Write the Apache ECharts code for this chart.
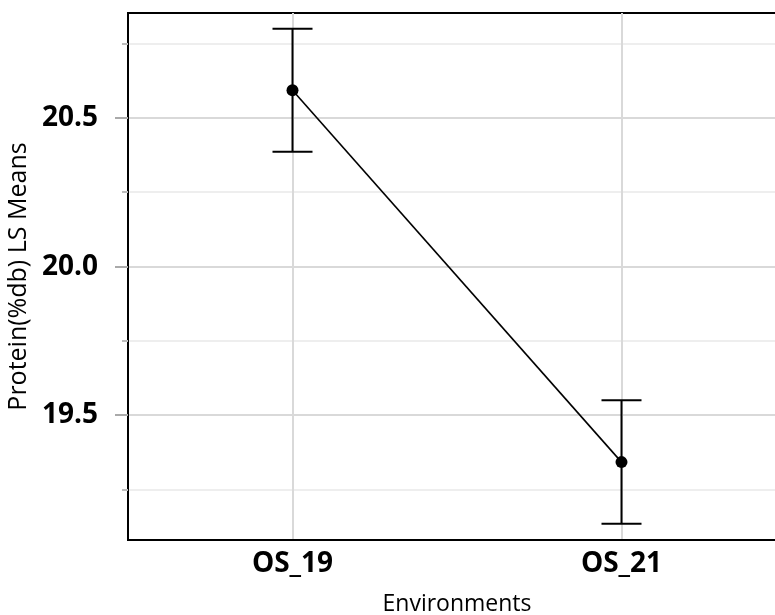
<!DOCTYPE html>
<html>
<head>
<meta charset="utf-8">
<script src="https://cdn.jsdelivr.net/npm/echarts@6/dist/echarts.min.js"></script>
<style>
  html, body { margin: 0; padding: 0; background: #fff; }
  #chart { width: 775px; height: 615px; }
</style>
</head>
<body>
<div id="chart"></div>
<script>
// ---- data ----
const categories = ['OS_19', 'OS_21'];
const means = [20.593, 19.342];
const lower = [20.386, 19.135];
const upper = [20.800, 19.550];
const majorTicks = [19.5, 20.0, 20.5];
const minorTicks = [19.25, 19.75, 20.25, 20.75];
const yMin = 19.08;
const yMax = 20.853;
const xTitle = 'Environments';
const yTitle = 'Protein(%db) LS Means';

const FONT = '"Open Sans", "Noto Sans", sans-serif';

const chart = echarts.init(document.getElementById('chart'), null, { renderer: 'canvas' });

const errData = categories.map((c, i) => [i, lower[i], upper[i]]);

const option = {
  animation: false,
  backgroundColor: '#ffffff',
  grid: {
    left: 128, top: 13, width: 658, height: 527,
    outerBoundsMode: 'none',
    containLabel: false,
    show: true, borderColor: '#000', borderWidth: 2, backgroundColor: '#fff'
  },
  xAxis: [
    {
      type: 'category',
      data: categories,
      boundaryGap: true,
      position: 'bottom',
      axisLine: { show: true, onZero: false, lineStyle: { color: '#000', width: 2 } },
      axisTick: { show: false },
      splitLine: { show: false },
      axisLabel: {
        color: '#000', fontFamily: FONT, fontWeight: 'bold', fontSize: 28, margin: 10
      },
      name: xTitle,
      nameLocation: 'middle',
      nameGap: 53,
      nameTextStyle: { color: '#000', fontFamily: FONT, fontSize: 23 }
    },
    {
      type: 'value',
      min: -0.5, max: 1.5,
      position: 'bottom',
      axisLine: { show: false, onZero: false },
      axisTick: { show: false, customValues: [0, 1] },
      axisLabel: { show: false, customValues: [0, 1] },
      splitLine: { show: true, lineStyle: { color: '#d9d9d9', width: 2 } }
    }
  ],
  yAxis: [
    {
      type: 'value',
      min: yMin, max: yMax,
      position: 'left',
      axisLine: { show: true, onZero: false, lineStyle: { color: '#000', width: 2 } },
      axisTick: { show: true, customValues: majorTicks, length: 13, lineStyle: { color: '#aaaaaa', width: 2 } },
      axisLabel: {
        customValues: majorTicks,
        color: '#000', fontFamily: FONT, fontWeight: 'bold', fontSize: 28, margin: 30,
        formatter: v => v.toFixed(1)
      },
      splitLine: { show: true, lineStyle: { color: '#d9d9d9', width: 2 } },
      name: yTitle,
      nameLocation: 'middle',
      nameGap: 89,
      nameTextStyle: { color: '#000', fontFamily: FONT, fontSize: 25 }
    },
    {
      type: 'value',
      min: yMin, max: yMax,
      position: 'left',
      axisLine: { show: false, onZero: false },
      axisTick: { show: true, customValues: minorTicks, length: 6, lineStyle: { color: '#bbbbbb', width: 2 } },
      axisLabel: { show: false, customValues: minorTicks },
      splitLine: { show: true, lineStyle: { color: '#eeeeee', width: 2 } }
    }
  ],
  series: [
    {
      type: 'custom',
      xAxisIndex: 0, yAxisIndex: 0,
      data: errData,
      z: 3,
      renderItem: function (params, api) {
        const x = api.value(0);
        const lo = api.coord([x, api.value(1)]);
        const hi = api.coord([x, api.value(2)]);
        const hw = 20;
        const style = { stroke: '#000', lineWidth: 2 };
        return {
          type: 'group',
          children: [
            { type: 'line', shape: { x1: lo[0], y1: lo[1], x2: hi[0], y2: hi[1] }, style },
            { type: 'line', shape: { x1: hi[0] - hw, y1: hi[1], x2: hi[0] + hw, y2: hi[1] }, style },
            { type: 'line', shape: { x1: lo[0] - hw, y1: lo[1], x2: lo[0] + hw, y2: lo[1] }, style }
          ]
        };
      }
    },
    {
      type: 'line',
      xAxisIndex: 0, yAxisIndex: 0,
      data: means,
      z: 4,
      symbol: 'circle',
      symbolSize: 12,
      itemStyle: { color: '#000' },
      lineStyle: { color: '#000', width: 1.6 }
    }
  ]
};

chart.setOption(option);
</script>
</body>
</html>
